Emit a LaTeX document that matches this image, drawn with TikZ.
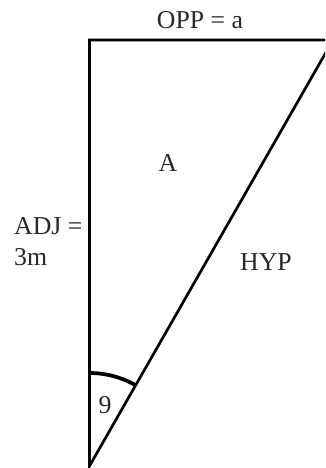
\documentclass[tikz,border=0pt]{standalone}
\usepackage{fontspec}
\setmainfont{Liberation Serif}
\usetikzlibrary{positioning}
\definecolor{labelColor}{RGB}{40, 40, 40}

\begin{document}
\begin{tikzpicture}[
        x=0.03cm, y=0.03cm,
        side/.style={
            draw=black,
            line width=2.3pt,
            line join=miter
        },
        angmark/.style={
            draw=black,
            line width=3.2pt
        },
        tag/.style={
            text=labelColor,
            inner sep=0pt,
            font=\fontsize{22}{26.5}\selectfont
        }
    ]

    \clip (0,0) rectangle (325,468);

    % corners of the triangle
    \coordinate (corner) at (89.5,428);
    \coordinate (apex) at (89.5,2);
    \coordinate (far) at (333,428);

    \draw[side] (far) -- (corner) -- (apex) -- cycle;
    \draw[angmark] (apex) ++(90:93) arc[start angle=90, end angle=60.3, radius=93];

    \node[tag] (opp) at (200,448) {OPP = a};
    \node[tag] (area) at (168,305) {A};
    \node[tag, anchor=west, align=left] (adj) at (14,226) {ADJ =\\3m};
    \node[tag] (hyp) at (266,206) {HYP};
    \node[tag] (angle) at (105,63) {9};

\end{tikzpicture}
\end{document}
